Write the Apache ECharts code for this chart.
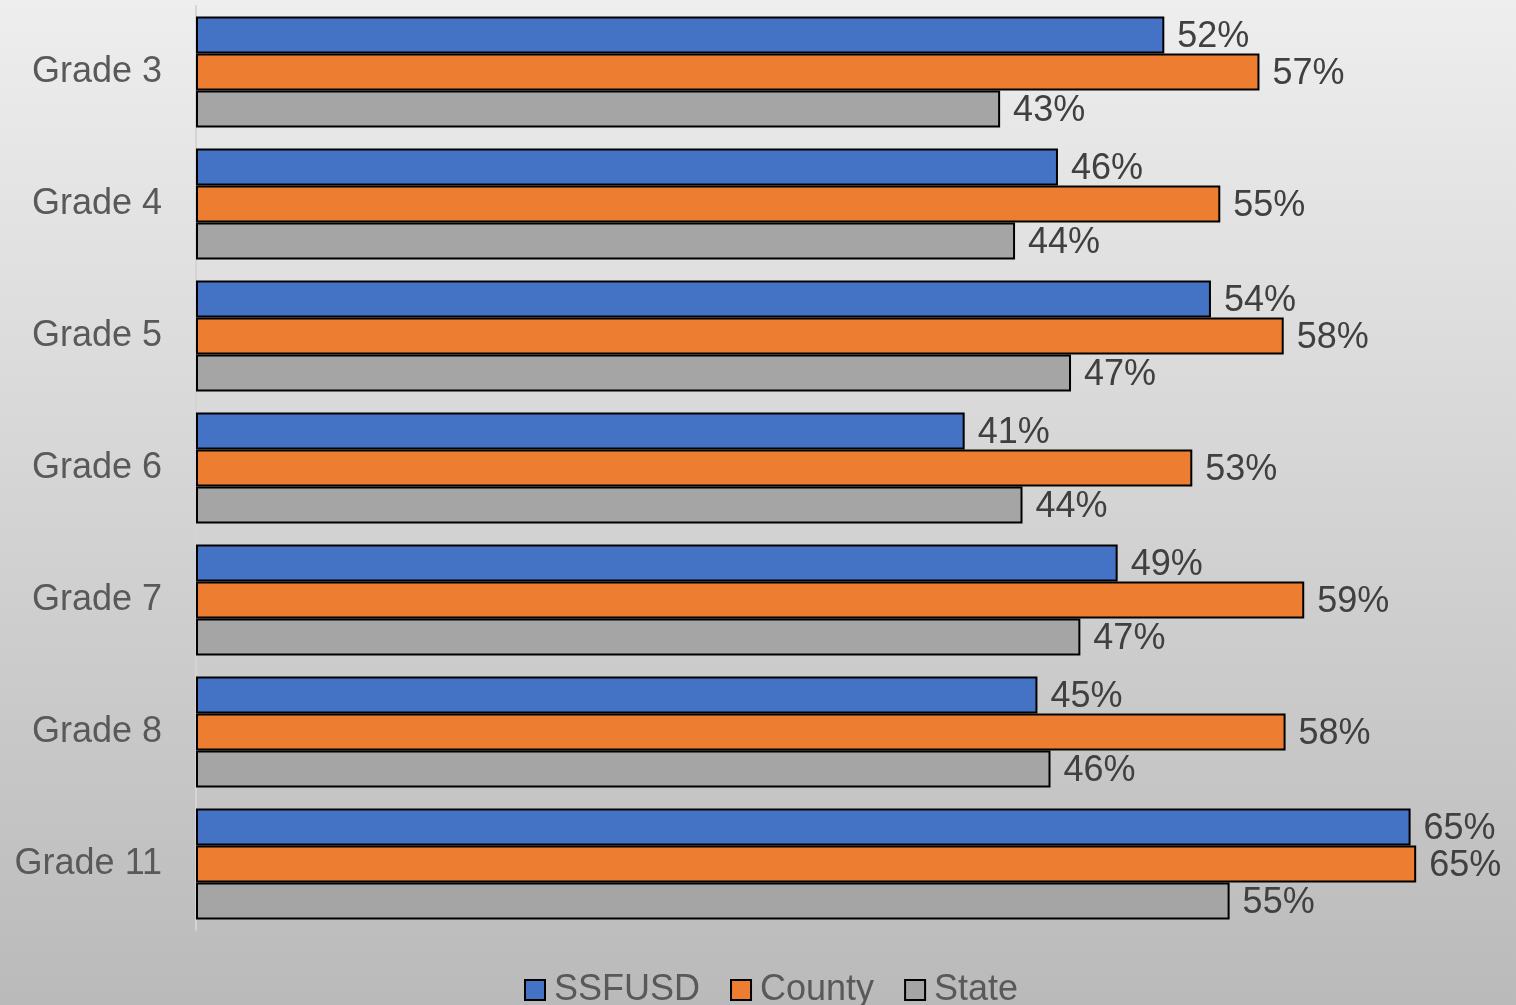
<!DOCTYPE html>
<html>
<head>
<meta charset="utf-8">
<script src="https://cdn.jsdelivr.net/npm/echarts@6/dist/echarts.min.js"></script>
<style>
  html, body { margin: 0; padding: 0; }
  #chart { width: 1516px; height: 1005px; }
</style>
</head>
<body>
<div id="chart"></div>
<script>
// 数据（百分比，标签显示四舍五入后的值）
const grades = ['Grade 3', 'Grade 4', 'Grade 5', 'Grade 6', 'Grade 7', 'Grade 8', 'Grade 11'];
const ssfusd = [51.9, 46.2, 54.4, 41.2, 49.4, 45.1, 65.1];
const county = [57.0, 54.9, 58.3, 53.4, 59.4, 58.4, 65.4];
const state = [43.1, 43.9, 46.9, 44.3, 47.4, 45.8, 55.4];

const myChart = echarts.init(document.getElementById('chart'));

const labelStyle = {
  show: true,
  position: 'right',
  distance: 13,
  offset: [0, 2],
  formatter: (p) => Math.round(p.value) + '%',
  color: '#404040',
  fontSize: 36,
  fontFamily: 'Liberation Sans'
};

const makeSeries = (name, data, color) => ({
  name: name,
  type: 'bar',
  data: data,
  barGap: '0%',
  barCategoryGap: '16%',
  itemStyle: { color: color, borderColor: '#000', borderWidth: 2 },
  label: labelStyle
});

const option = {
  backgroundColor: new echarts.graphic.LinearGradient(0, 0, 0, 1, [
    { offset: 0, color: '#eeeeee' },
    { offset: 1, color: '#bababa' }
  ]),
  animation: false,
  grid: { left: 196, top: 6, width: 1306, height: 924 },
  legend: {
    bottom: -8,
    left: 519,
    itemWidth: 20,
    itemHeight: 20,
    itemGap: 30,
    icon: 'rect',
    textStyle: { fontSize: 36, color: '#595959', fontFamily: 'Liberation Sans', padding: [0, 0, 0, 4] },
    data: ['SSFUSD', 'County', 'State']
  },
  xAxis: {
    type: 'value',
    min: 0,
    max: 70,
    show: false
  },
  yAxis: {
    type: 'category',
    data: grades,
    inverse: true,
    axisLine: { show: true, lineStyle: { color: '#d4d4d4', width: 2 } },
    axisTick: { show: false },
    axisLabel: { margin: 34, fontSize: 36, color: '#595959', fontFamily: 'Liberation Sans', padding: [6, 0, 0, 0] }
  },
  series: [
    makeSeries('SSFUSD', ssfusd, '#4472C4'),
    makeSeries('County', county, '#ED7D31'),
    makeSeries('State', state, '#A5A5A5')
  ]
};

myChart.setOption(option);
</script>
</body>
</html>
